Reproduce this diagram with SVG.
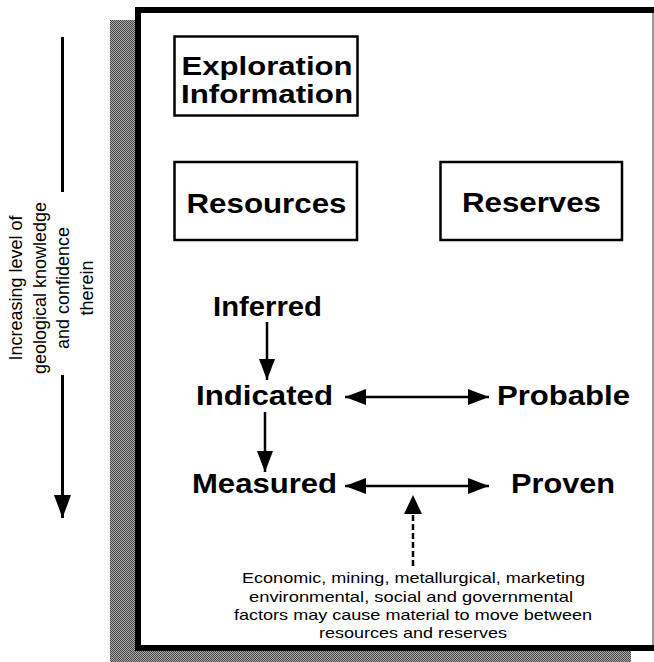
<svg xmlns="http://www.w3.org/2000/svg" width="654" height="662" viewBox="0 0 654 662">
<style>
  .bold { font-family: "Liberation Sans", Arial, Helvetica, sans-serif; font-weight: bold; font-size: 28px; fill: #000; text-anchor: middle; }
  .bold2 { font-family: "Liberation Sans", Arial, Helvetica, sans-serif; font-weight: bold; font-size: 26px; fill: #000; text-anchor: middle; }
  .reg { font-family: "Liberation Sans", Arial, Helvetica, sans-serif; font-size: 15px; fill: #000; text-anchor: middle; }
  .side { font-family: "Liberation Sans", Arial, Helvetica, sans-serif; font-size: 18px; fill: #000; text-anchor: middle; }
  .box { fill: none; stroke: #000; stroke-width: 2.5; }
  .conn { stroke: #000; stroke-width: 2.5; fill: none; }
</style>
<defs>
  <pattern id="dither" width="2" height="2" patternUnits="userSpaceOnUse">
    <rect width="2" height="2" fill="#a8a8a8"/>
    <rect width="1" height="1" fill="#4a4a4a"/>
    <rect x="1" y="1" width="1" height="1" fill="#4a4a4a"/>
  </pattern>
  <marker id="ah" markerUnits="userSpaceOnUse" markerWidth="22" markerHeight="18" refX="21" refY="8" orient="auto-start-reverse" viewBox="0 0 22 16">
    <path d="M0,0 L21,8 L0,16 Z" fill="#000"/>
  </marker>
  <marker id="ahBig" markerUnits="userSpaceOnUse" markerWidth="24" markerHeight="18" refX="23" refY="8.5" orient="auto" viewBox="0 0 24 17">
    <path d="M0,0 L23,8.5 L0,17 Z" fill="#000"/>
  </marker>
</defs>

<!-- shadow and frame -->
<g id="frame">
  <rect x="110" y="20" width="521" height="642" fill="url(#dither)"/>
  <rect x="135" y="7" width="519" height="644" fill="#fff"/>
  <path d="M654,10 H138 V648 H654" fill="none" stroke="#000" stroke-width="6"/>
  <line x1="653" y1="13" x2="653" y2="645" stroke="#777" stroke-width="1.5"/>
</g>

<!-- side axis -->
<g id="axis">
  <line x1="62.5" y1="37" x2="62.5" y2="192" stroke="#000" stroke-width="3"/>
  <line x1="62.5" y1="375" x2="62.5" y2="518" stroke="#000" stroke-width="3" marker-end="url(#ahBig)"/>
  <g transform="translate(0,288) rotate(-90)">
    <text class="side" x="0" y="22">Increasing level of</text>
    <text class="side" x="0" y="45.5">geological knowledge</text>
    <text class="side" x="0" y="69">and confidence</text>
    <text class="side" x="0" y="92.5">therein</text>
  </g>
</g>

<g id="exploration">
  <rect class="box" x="174.5" y="36.5" width="183" height="79"/>
  <text class="bold2" x="267" y="74.5" textLength="171" lengthAdjust="spacingAndGlyphs">Exploration</text>
  <text class="bold2" x="267" y="103" textLength="172" lengthAdjust="spacingAndGlyphs">Information</text>
</g>

<g id="resources">
  <rect class="box" x="174.5" y="162" width="182.5" height="78"/>
  <text class="bold" x="266.5" y="213" textLength="160" lengthAdjust="spacingAndGlyphs">Resources</text>
</g>

<g id="reserves">
  <rect class="box" x="440.5" y="162" width="181.5" height="78"/>
  <text class="bold" x="531.5" y="212" textLength="139" lengthAdjust="spacingAndGlyphs">Reserves</text>
</g>

<g id="inferred">
  <text class="bold" x="267.5" y="316" textLength="109" lengthAdjust="spacingAndGlyphs">Inferred</text>
</g>
<g id="indicated">
  <text class="bold" x="264.5" y="405" textLength="137" lengthAdjust="spacingAndGlyphs">Indicated</text>
</g>
<g id="probable">
  <text class="bold" x="563.5" y="405" textLength="133" lengthAdjust="spacingAndGlyphs">Probable</text>
</g>
<g id="measured">
  <text class="bold" x="264.5" y="493" textLength="145" lengthAdjust="spacingAndGlyphs">Measured</text>
</g>
<g id="proven">
  <text class="bold" x="563" y="493" textLength="104" lengthAdjust="spacingAndGlyphs">Proven</text>
</g>

<g id="factors">
  <text class="reg" x="413.5" y="583" textLength="343" lengthAdjust="spacingAndGlyphs">Economic, mining, metallurgical, marketing</text>
  <text class="reg" x="411" y="602" textLength="324" lengthAdjust="spacingAndGlyphs">environmental, social and governmental</text>
  <text class="reg" x="413" y="620" textLength="358" lengthAdjust="spacingAndGlyphs">factors may cause material to move between</text>
  <text class="reg" x="413" y="638" textLength="188" lengthAdjust="spacingAndGlyphs">resources and reserves</text>
</g>

<g id="connectors">
  <line class="conn" x1="267" y1="322" x2="267" y2="380" marker-end="url(#ah)"/>
  <line class="conn" x1="265" y1="412" x2="265" y2="472" marker-end="url(#ah)"/>
  <line class="conn" x1="345" y1="397" x2="489" y2="397" marker-start="url(#ah)" marker-end="url(#ah)"/>
  <line class="conn" x1="345" y1="486" x2="489" y2="486" marker-start="url(#ah)" marker-end="url(#ah)"/>
  <line class="conn" x1="413" y1="566" x2="413" y2="512" stroke-dasharray="6 3"/>
  <path d="M404,514 L413,495 L422,514 Z" fill="#000"/>
</g>
</svg>
